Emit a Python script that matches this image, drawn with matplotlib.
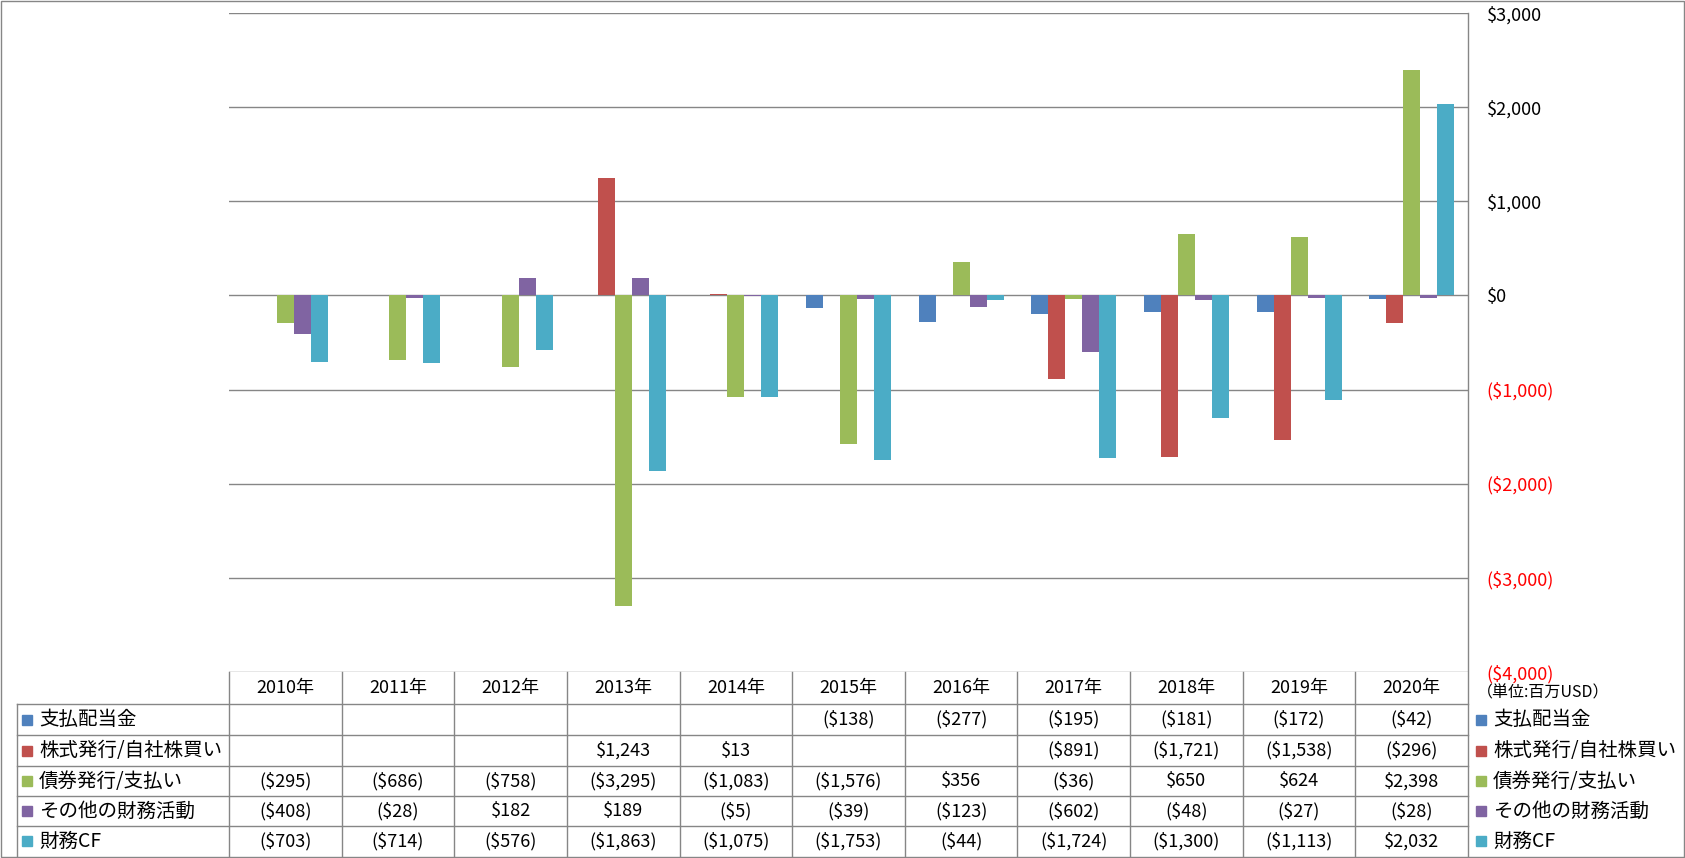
import numpy as np
import matplotlib
matplotlib.use("Agg")
import matplotlib.pyplot as plt
import matplotlib.transforms as mtransforms
from matplotlib.patches import Rectangle

plt.rcParams['font.family'] = ['Noto Sans CJK JP', 'DejaVu Sans']

# data (百万USD), None = blank cell
years = ['2010年', '2011年', '2012年', '2013年', '2014年', '2015年',
         '2016年', '2017年', '2018年', '2019年', '2020年']
dividends = [None, None, None, None, None, -138, -277, -195, -181, -172, -42]
stock = [None, None, None, 1243, 13, None, None, -891, -1721, -1538, -296]
debt = [-295, -686, -758, -3295, -1083, -1576, 356, -36, 650, 624, 2398]
other = [-408, -28, 182, 189, -5, -39, -123, -602, -48, -27, -28]
fin_cf = [-703, -714, -576, -1863, -1075, -1753, -44, -1724, -1300, -1113, 2032]

names = ['支払配当金', '株式発行/自社株買い', '債券発行/支払い', 'その他の財務活動', '財務CF']
series = [dividends, stock, debt, other, fin_cf]
colors = ['#4F81BD', '#C0504D', '#9BBB59', '#8064A2', '#4BACC6']
yticks = [-4000, -3000, -2000, -1000, 0, 1000, 2000, 3000]

W, H = 1685, 858
grid_c = '#868686'

def fmt(v):
    if v is None:
        return ''
    if v < 0:
        return f'(${-v:,})'
    return f'${v:,}'

fig = plt.figure(figsize=(W / 100, H / 100), dpi=100)

# overlay in pixel coordinates for table / borders
ov = fig.add_axes([0, 0, 1, 1])
ov.set_xlim(0, W)
ov.set_ylim(H, 0)
ov.axis('off')

left, right, top, bottom = 229, 1468, 13, 672
ax = fig.add_axes([left / W, (H - bottom) / H, (right - left) / W, (bottom - top) / H])
ax.set_facecolor('none')

x = np.arange(len(years))
bw = 0.151
for k, (vals, c) in enumerate(zip(series, colors)):
    v = np.array([np.nan if s is None else s for s in vals], dtype=float)
    m = ~np.isnan(v)
    ax.bar(x[m] + (k - 2) * bw, v[m], width=bw, color=c, zorder=3)

ax.set_xlim(-0.5, len(years) - 0.5)
ax.set_ylim(-4000, 3000)
ax.set_yticks(yticks)
ax.set_xticks([])
for yv in yticks:
    ax.axhline(yv, color=grid_c, lw=1.0, zorder=1)
for s in ax.spines.values():
    s.set_visible(False)
ax.yaxis.tick_right()
ax.tick_params(axis='y', length=0, pad=13.5, labelsize=13)
ax.set_yticklabels([fmt(v) for v in yticks])
for lab, v in zip(ax.get_yticklabels(), yticks):
    lab.set_color('red' if v < 0 else 'black')

# table
tr = mtransforms.blended_transform_factory(ax.transData, ov.transData)
rows = [672, 704, 735, 766, 796, 826, 856]
tab_left = 17

# outer border
ov.add_patch(Rectangle((0.5, 0.5), W - 1.5, H - 1.5, fill=False, ec=grid_c, lw=1.0))

# vertical lines
ov.plot([right, right], [top, H], color=grid_c, lw=1.0)
ov.plot([tab_left, tab_left], [rows[1], H], color=grid_c, lw=1.0)
for i in range(len(years)):
    ov.plot([i - 0.5, i - 0.5], [rows[0], H], color=grid_c, lw=1.0, transform=tr)
# horizontal lines
for r in rows[1:-1]:
    ov.plot([tab_left, right], [r, r], color=grid_c, lw=1.0)

for i, yr in enumerate(years):
    ov.text(i, (rows[0] + rows[1]) / 2, yr, transform=tr, ha='center', va='center', fontsize=13)

for j, (nm, vals, c) in enumerate(zip(names, series, colors)):
    yc = (rows[j + 1] + rows[j + 2]) / 2
    ov.add_patch(Rectangle((22, yc - 5), 10, 10, color=c))
    ov.text(39, yc, nm, ha='left', va='center', fontsize=14)
    for i, v in enumerate(vals):
        ov.text(i, yc, fmt(v), transform=tr, ha='center', va='center', fontsize=13)
    # right-hand legend
    ov.add_patch(Rectangle((1476, yc - 5), 10, 10, color=c))
    ov.text(1493, yc, nm, ha='left', va='center', fontsize=14)

ov.text(1477, 693, '（単位:百万USD）', ha='left', va='center', fontsize=11.5)

fig.savefig('out.png', dpi=100)
